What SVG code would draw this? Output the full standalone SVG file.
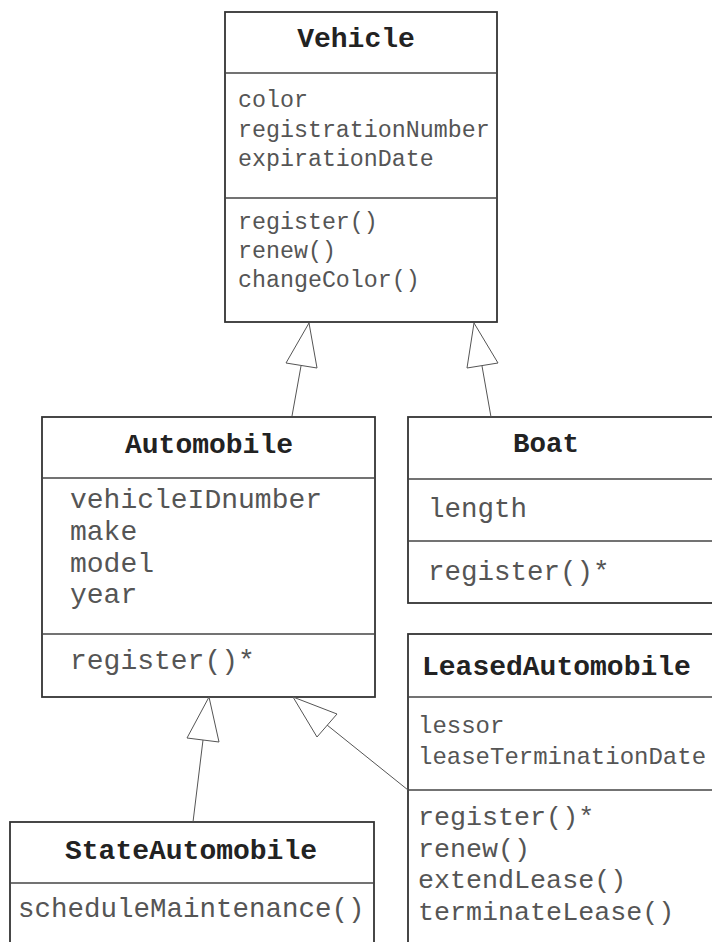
<svg xmlns="http://www.w3.org/2000/svg" width="712" height="942" viewBox="0 0 712 942">
<style>
.box{fill:#fff;stroke:#333;stroke-width:1.8}
.div{stroke:#444;stroke-width:1.5}
.t{font-family:"Liberation Mono","Courier New",monospace;fill:#555}
.b{font-family:"Liberation Mono","Courier New",monospace;fill:#222;font-weight:bold}
.con line{stroke:#555;stroke-width:1}
.con polygon{fill:#fff;stroke:#555;stroke-width:1}
</style>
<rect width="712" height="942" fill="#fff"/>
<g id="Vehicle">
<rect class="box" x="225" y="12" width="272" height="310"/>
<line class="div" x1="225" y1="73" x2="497" y2="73"/>
<line class="div" x1="225" y1="198" x2="497" y2="198"/>
<text class="b" x="356" y="47" font-size="28" text-anchor="middle">Vehicle</text>
<g class="t" font-size="23.3">
<text x="238" y="107">color</text>
<text x="238" y="137">registrationNumber</text>
<text x="238" y="166">expirationDate</text>
<text x="238" y="229">register()</text>
<text x="238" y="258">renew()</text>
<text x="238" y="287">changeColor()</text>
</g>
</g>
<g id="Automobile">
<rect class="box" x="42" y="417" width="333" height="280"/>
<line class="div" x1="42" y1="478" x2="375" y2="478"/>
<line class="div" x1="42" y1="634" x2="375" y2="634"/>
<text class="b" x="209" y="453" font-size="28" text-anchor="middle">Automobile</text>
<g class="t" font-size="28">
<text x="70" y="508">vehicleIDnumber</text>
<text x="70" y="540">make</text>
<text x="70" y="572">model</text>
<text x="70" y="603">year</text>
<text x="70" y="669">register()*</text>
</g>
</g>
<g id="Boat">
<rect class="box" x="408" y="417" width="320" height="186"/>
<line class="div" x1="408" y1="479" x2="728" y2="479"/>
<line class="div" x1="408" y1="541" x2="728" y2="541"/>
<text class="b" x="513" y="452" font-size="27.5">Boat</text>
<g class="t" font-size="27.5">
<text x="428" y="517">length</text>
<text x="428" y="580">register()*</text>
</g>
</g>
<g id="LeasedAutomobile">
<rect class="box" x="408" y="634" width="320" height="330"/>
<line class="div" x1="408" y1="697" x2="728" y2="697"/>
<line class="div" x1="408" y1="790" x2="728" y2="790"/>
<text class="b" x="422" y="675" font-size="28">LeasedAutomobile</text>
<g class="t" font-size="24">
<text x="418" y="733">lessor</text>
<text x="418" y="764">leaseTerminationDate</text>
</g>
<g class="t" font-size="26.7">
<text x="418" y="825">register()*</text>
<text x="418" y="857">renew()</text>
<text x="418" y="888">extendLease()</text>
<text x="418" y="920">terminateLease()</text>
</g>
</g>
<g id="StateAutomobile">
<rect class="box" x="10" y="822" width="364" height="140"/>
<line class="div" x1="10" y1="883" x2="374" y2="883"/>
<text class="b" x="191" y="859" font-size="28" text-anchor="middle">StateAutomobile</text>
<text class="t" x="18" y="917" font-size="27.5">scheduleMaintenance()</text>
</g>
<g id="connectors" class="con">
<line x1="301" y1="366" x2="292" y2="416"/>
<polygon points="309,323 286,363 317,368"/>
<line x1="482" y1="366" x2="491" y2="417"/>
<polygon points="474,323 467,368 498,363"/>
<line x1="203" y1="740" x2="193" y2="822"/>
<polygon points="209,697 187,738 219,742"/>
<line x1="327" y1="725" x2="408" y2="790"/>
<polygon points="293,697 317,737 337,714"/>
</g>
</svg>
